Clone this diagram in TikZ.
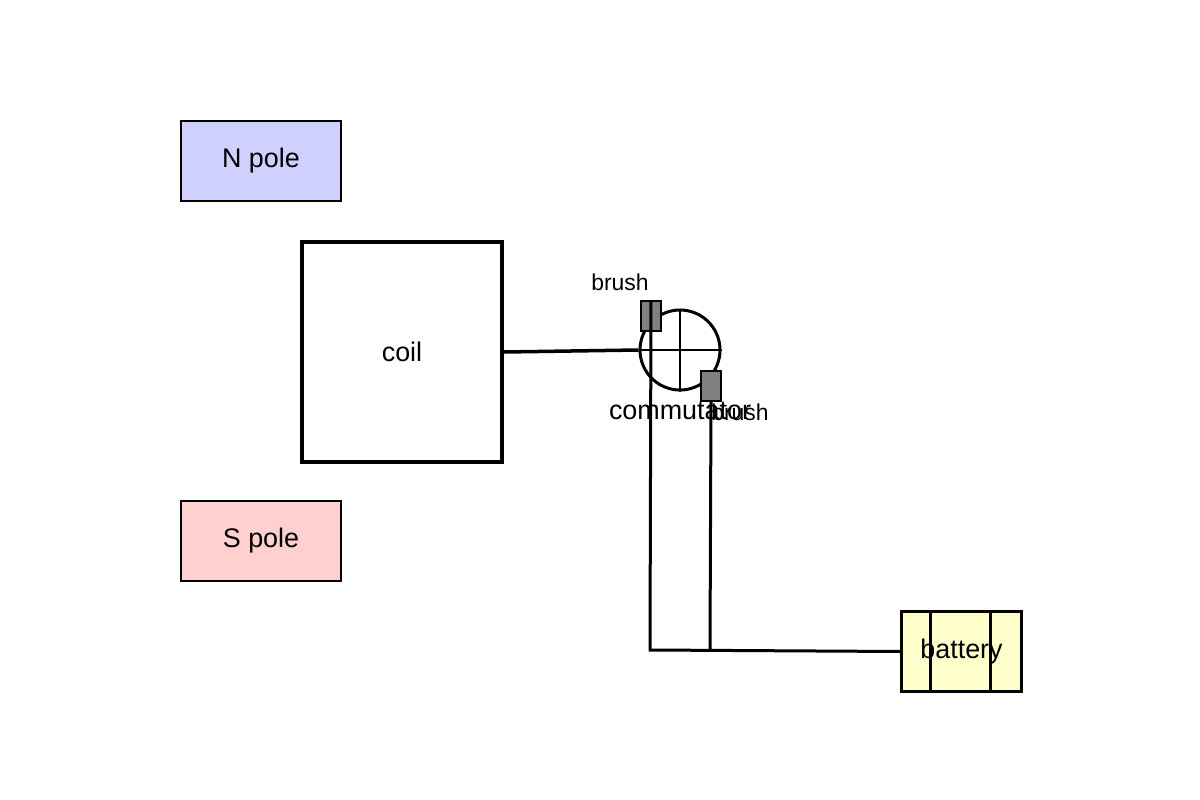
\documentclass[tikz,border=0pt]{standalone}
\usepackage{fontspec}
\setmainfont{Liberation Sans}
\begin{document}
\begin{tikzpicture}[x=1bp,y=-1bp,
 lbl/.style={font=\fontsize{27}{31}\selectfont},
 sm/.style={font=\fontsize{23}{27}\selectfont},
 pole/.style={draw,line width=2bp,minimum width=160bp,minimum height=80bp,inner sep=0pt,anchor=north west,lbl},
 brushbox/.style={draw,line width=2bp,fill={rgb,255:red,128;green,128;blue,128},minimum width=20bp,minimum height=30bp,inner sep=0pt,anchor=north west},
 wire/.style={line width=3bp}]
\useasboundingbox (0,0) rectangle (1200,800);
\node[pole,fill={rgb,255:red,208;green,208;blue,255}] (n) at (180,120) {N pole};
\node[pole,fill={rgb,255:red,255;green,208;blue,208}] (s) at (180,500) {S pole};
\node[draw,line width=4bp,minimum width=200bp,minimum height=220bp,anchor=north west,inner sep=0pt,lbl] (coil) at (300,240) {coil};
\node[draw,circle,line width=3bp,minimum size=80bp,inner sep=0pt] (comm) at (680,350) {};
\draw[line width=2.5bp] (comm.west) -- (comm.east) (comm.north) -- (comm.south);
\node[lbl] (cl) at (680,411) {commutator};
\draw[line width=3.5bp] (coil.east) -- (comm.west);
\node[brushbox] (b1) at (640,300) {};
\node[sm] (b1l) at (620,282) {brush};
\node[brushbox] (b2) at (700,370) {};
\node[sm] (b2l) at (740,412) {brush};
\node[draw,line width=3bp,fill={rgb,255:red,255;green,255;blue,204},minimum width=120bp,minimum height=80bp,inner sep=0pt,anchor=north west] (bat) at (900,610) {};
\draw[line width=3bp] (930,610) -- (930,690) (990,610) -- (990,690);
\node[lbl] at (bat.center) {battery};
\coordinate (j1) at (650,650);
\coordinate (j2) at (710,650);
\draw[wire] (b1.north) -- (j1) -- (bat.west);
\draw[wire] (b2.south) -- (j2);
\end{tikzpicture}
\end{document}
